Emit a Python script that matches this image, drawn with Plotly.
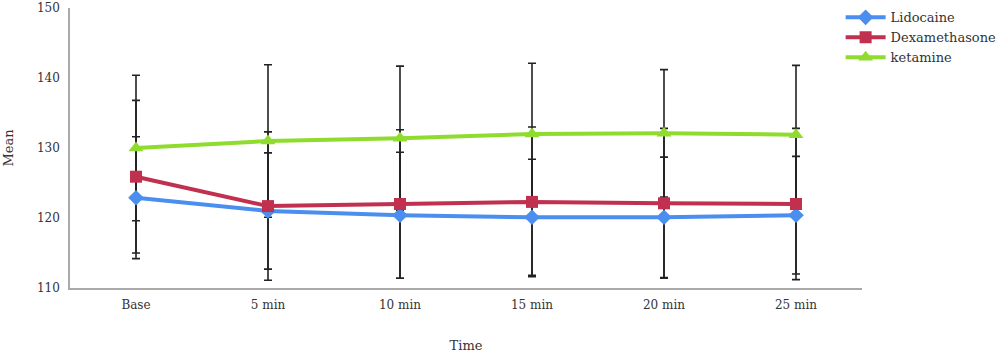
import plotly.graph_objects as go

categories = ["Base", "5 min", "10 min", "15 min", "20 min", "25 min"]
lidocaine = [122.9, 121.0, 120.4, 120.1, 120.1, 120.4]
lidocaine_sd = [8.7, 8.3, 9.0, 8.3, 8.6, 8.4]
dexamethasone = [125.9, 121.7, 122.0, 122.3, 122.1, 122.0]
dexamethasone_sd = [10.9, 10.6, 10.6, 10.7, 10.7, 10.8]
ketamine = [130.0, 131.0, 131.4, 132.0, 132.1, 131.9]
ketamine_sd = [10.4, 10.9, 10.3, 10.1, 9.1, 9.9]

series = [
    ("Lidocaine", lidocaine, lidocaine_sd, "#4a8ff0", "diamond", 12),
    ("Dexamethasone", dexamethasone, dexamethasone_sd, "#c1304f", "square", 12),
    ("ketamine", ketamine, ketamine_sd, "#8fdc2e", "triangle-up", 13),
]

fig = go.Figure()
# error bars first (behind lines/markers)
for name, vals, sd, color, sym, sz in series:
    fig.add_trace(go.Scatter(
        x=categories, y=vals, mode="markers",
        marker=dict(size=1, opacity=0),
        error_y=dict(type="data", array=sd, visible=True, color="#222222", thickness=1.6, width=4),
        showlegend=False, hoverinfo="skip"))
for name, vals, sd, color, sym, sz in series:
    fig.add_trace(go.Scatter(
        x=categories, y=vals, mode="lines+markers", name=name,
        line=dict(color=color, width=4),
        marker=dict(symbol=sym, size=sz, color=color)))

font_family = "DejaVu Serif"
fig.update_layout(
    width=1000, height=355,
    margin=dict(l=70, r=138, t=8, b=67, autoexpand=False),
    paper_bgcolor="white", plot_bgcolor="white",
    font=dict(family=font_family, size=12, color="#333333"),
    legend=dict(x=0.973, y=1.02, xanchor="left", yanchor="top",
                font=dict(size=13, color="#333333"), tracegroupgap=0,
                itemwidth=40, bgcolor="rgba(0,0,0,0)"),
    xaxis=dict(type="category", range=[-0.5, 5.5], showline=True, linecolor="#aaaaaa",
               linewidth=1.5, ticks="", showgrid=False, zeroline=False, automargin=False,
               ticklabelstandoff=5,
               title=dict(text="Time", standoff=30, font=dict(size=13)),
               tickfont=dict(size=12)),
    yaxis=dict(range=[110, 150], dtick=10, showline=True, linecolor="#aaaaaa",
               linewidth=1.5, ticks="", showgrid=False, zeroline=False, automargin=False,
               ticklabelstandoff=6,
               title=dict(text="Mean", standoff=20, font=dict(size=13)),
               tickfont=dict(size=12)),
)

fig.write_html("out.html", config={"displayModeBar": False},
               post_script="document.body.style.margin='0';")
